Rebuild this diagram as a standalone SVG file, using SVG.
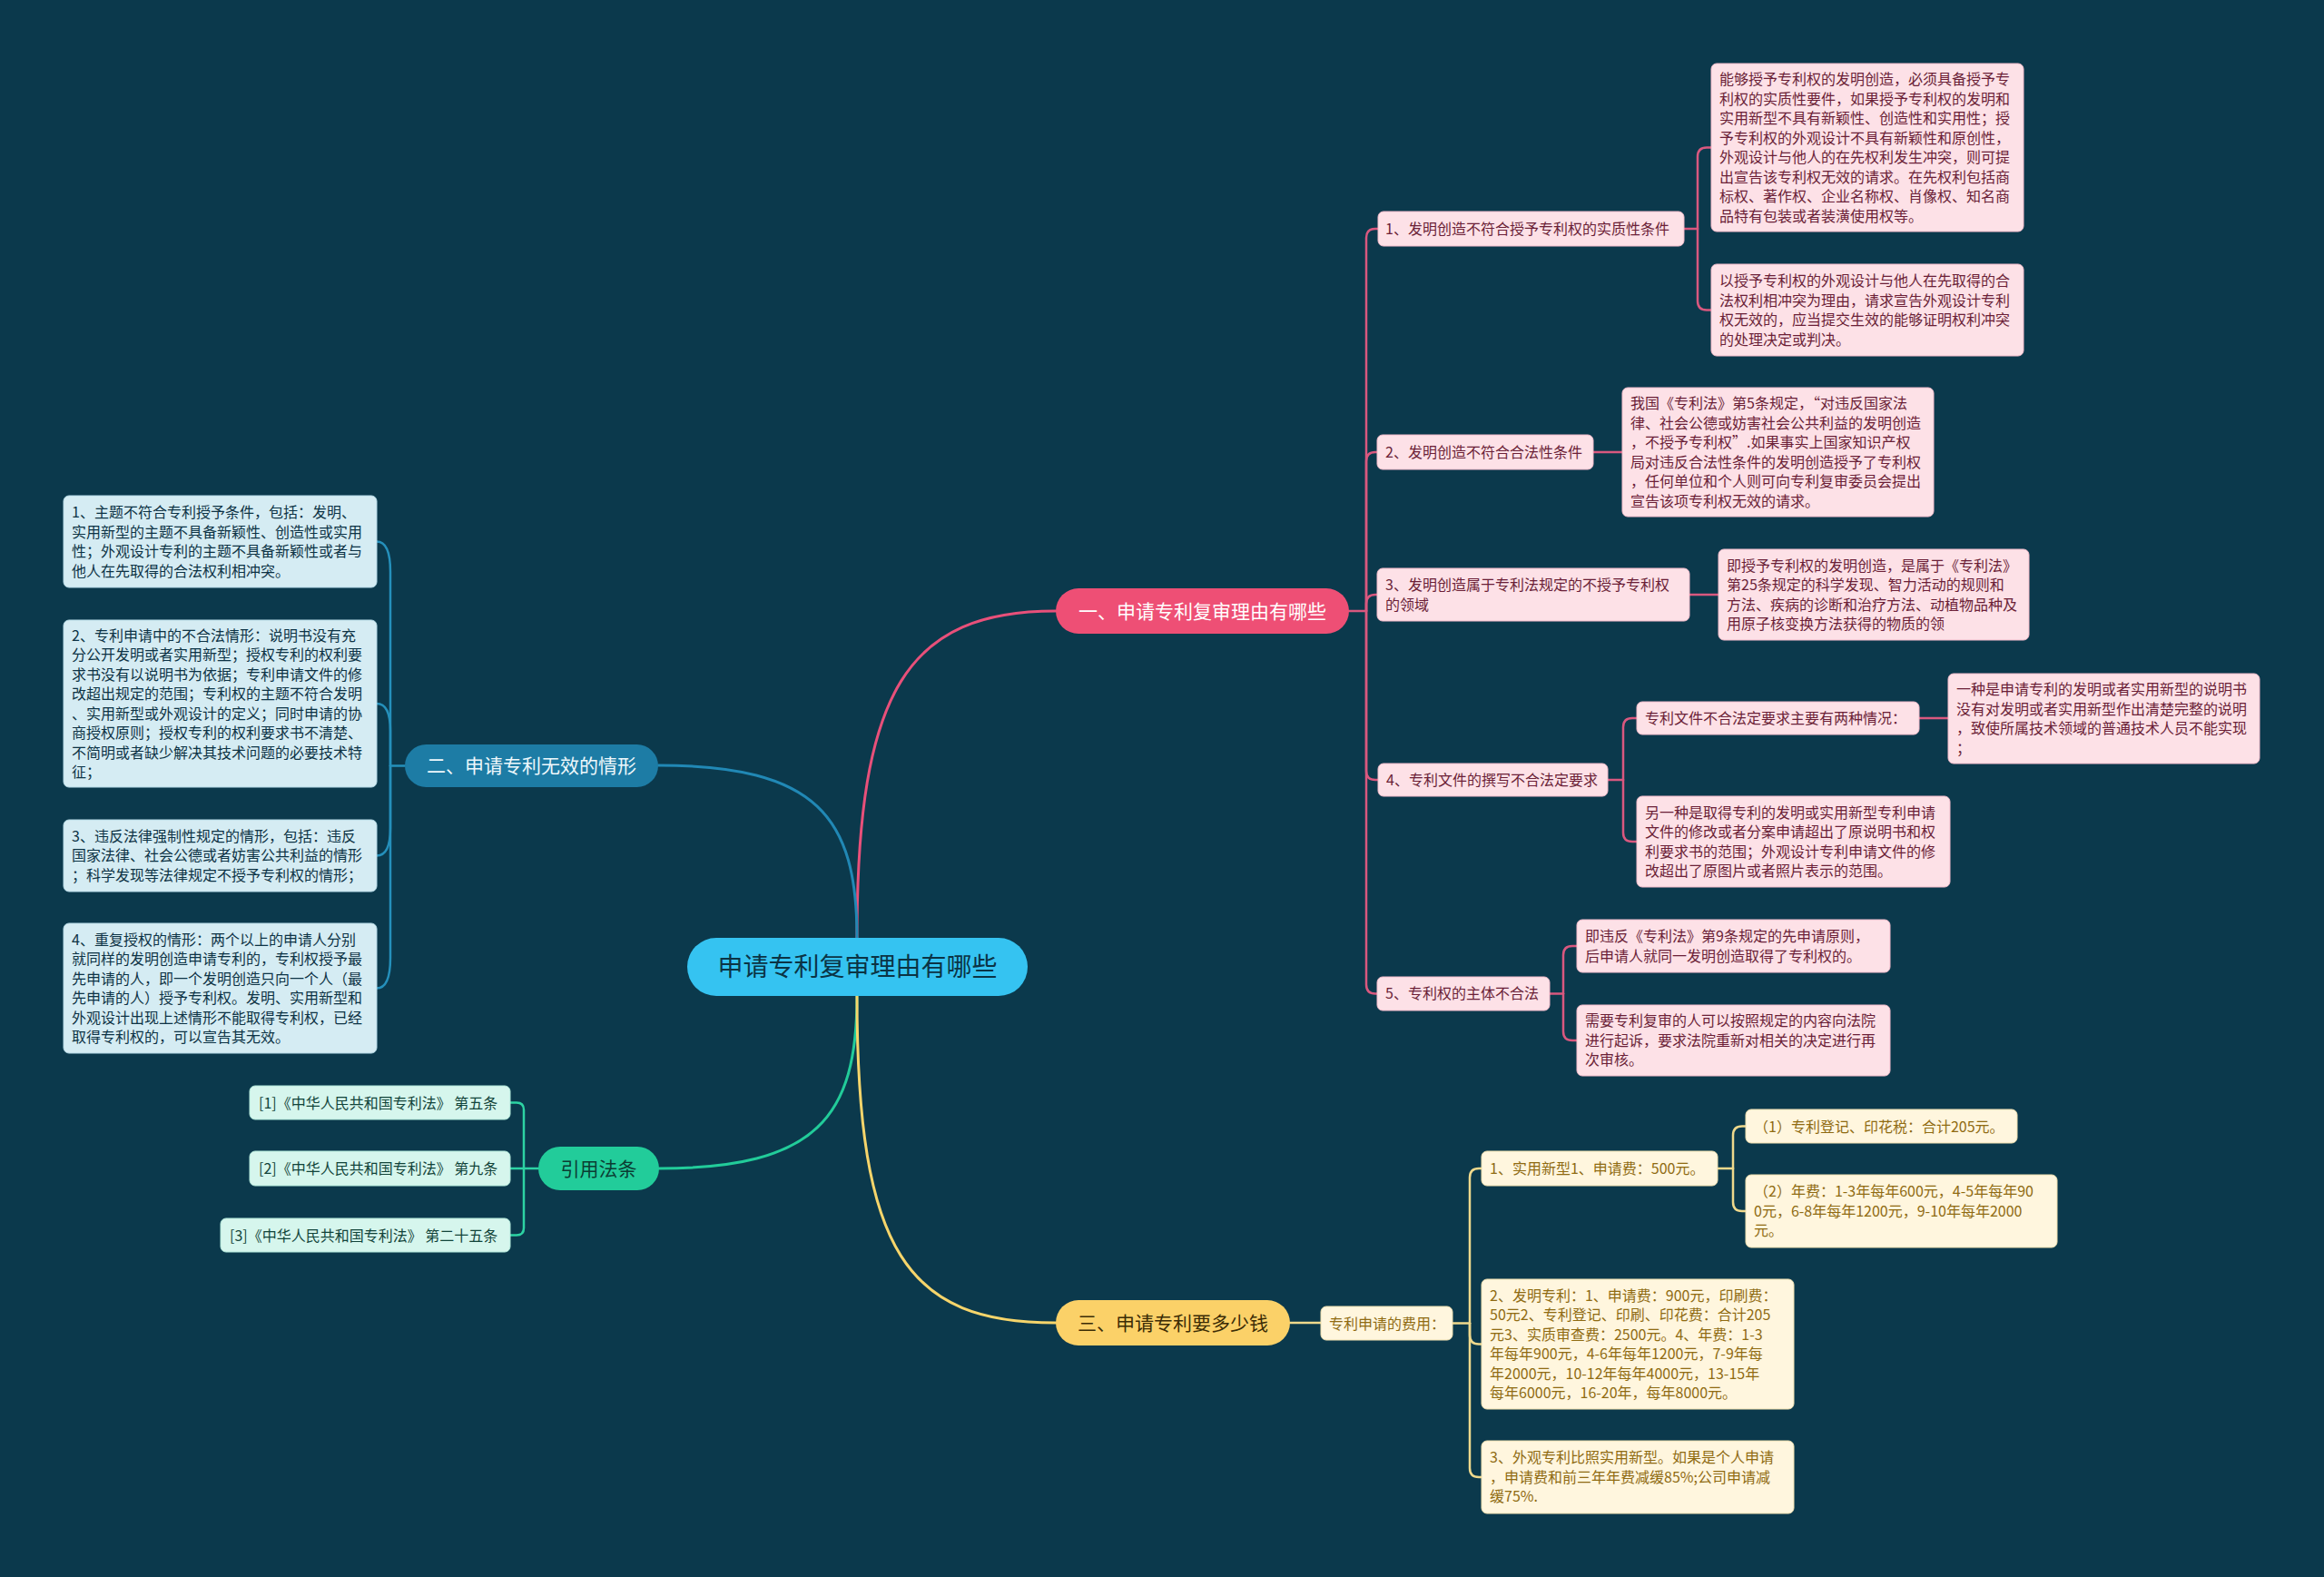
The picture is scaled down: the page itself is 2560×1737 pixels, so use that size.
<svg xmlns="http://www.w3.org/2000/svg" width="2560" height="1737" viewBox="0 0 2560 1737">
<style>
text{font-family:"Noto Sans CJK SC","Noto Sans",sans-serif;}
.t{font-size:16px;}
.pk rect{fill:#fde1e7;stroke:#f3bccb;stroke-width:1;}
.pk text{fill:#6b1f37;}
.bl rect{fill:#d5ecf3;stroke:#b7dbe7;stroke-width:1;}
.bl text{fill:#0d3345;}
.yl rect{fill:#fff6de;stroke:#f0e0b0;stroke-width:1;}
.yl text{fill:#8f6b12;}
.gr rect{fill:#d6f6ed;stroke:#b3e9da;stroke-width:1;}
.gr text{fill:#12443a;}
.br text{font-size:21px;text-anchor:middle;}
.c{fill:none;stroke-linecap:round;stroke-linejoin:round;}
.cp{stroke:#d9587f;stroke-width:2.5;}
.cb{stroke:#2590bb;stroke-width:2.5;}
.cy{stroke:#efd98c;stroke-width:2.5;}
.cg{stroke:#2dd3a3;stroke-width:2.5;}
</style>
<rect x="0" y="0" width="2560" height="1737" fill="#0b394c"/>

<g id="connectors" class="c">
  <path d="M944 1033C944 760 1000 673 1163 673" stroke="#e8507a" stroke-width="3"/>
  <path d="M944 1033C944 900 900 843 725 843" stroke="#2188b5" stroke-width="3"/>
  <path d="M944 1097C944 1230 900 1287 726 1287" stroke="#22cc9a" stroke-width="3"/>
  <path d="M944 1097C944 1380 1000 1457 1163 1457" stroke="#f6d56b" stroke-width="3"/>
  <g class="cp">
    <path d="M1486 673H1505"/>
    <path d="M1505 673V262Q1505 252 1515 252H1518"/>
    <path d="M1505 673V508Q1505 498 1515 498H1518"/>
    <path d="M1505 673V665Q1505 655 1515 655H1518"/>
    <path d="M1505 673V849Q1505 859 1515 859H1518"/>
    <path d="M1505 673V1084.5Q1505 1094.5 1515 1094.5H1518"/>
    <path d="M1855 252H1870"/>
    <path d="M1870 252V172.5Q1870 162.5 1880 162.5H1885"/>
    <path d="M1870 252V331.5Q1870 341.5 1880 341.5H1885"/>
    <path d="M1755 498H1787"/>
    <path d="M1861 655H1893"/>
    <path d="M1771 859H1788"/>
    <path d="M1788 859V801Q1788 791 1798 791H1803"/>
    <path d="M1788 859V917Q1788 927 1798 927H1803"/>
    <path d="M2114 791H2146"/>
    <path d="M1707 1094.5H1722"/>
    <path d="M1722 1094.5V1052Q1722 1042 1732 1042H1737"/>
    <path d="M1722 1094.5V1136Q1722 1146 1732 1146H1737"/>
  </g>
  <g class="cb">
    <path d="M446 843.5H430"/>
    <path d="M430 843.5V630Q430 596.5 415 596.5"/>
    <path d="M430 843.5V805Q430 775 415 775"/>
    <path d="M430 843.5V912Q430 942.5 415 942.5"/>
    <path d="M430 843.5V1055Q430 1088.5 415 1088.5"/>
  </g>
  <g class="cg">
    <path d="M593 1287H577"/>
    <path d="M577 1287V1222.5Q577 1214.5 569 1214.5H562"/>
    <path d="M577 1287H562"/>
    <path d="M577 1287V1352.5Q577 1360.5 569 1360.5H562"/>
  </g>
  <g class="cy">
    <path d="M1421 1457H1455"/>
    <path d="M1600 1457.5H1619"/>
    <path d="M1619 1457.5V1297Q1619 1287 1629 1287H1632"/>
    <path d="M1619 1457.5V1470.5Q1619 1480.5 1629 1480.5H1632"/>
    <path d="M1619 1457.5V1617Q1619 1627 1629 1627H1632"/>
    <path d="M1892 1287H1909"/>
    <path d="M1909 1287V1250.5Q1909 1240.5 1919 1240.5H1923"/>
    <path d="M1909 1287V1324Q1909 1334 1919 1334H1923"/>
  </g>
</g>

<g id="center">
  <rect x="757" y="1033" width="375" height="64" rx="32" fill="#35c3f1"/>
  <text x="944.5" y="1075" font-size="28" text-anchor="middle" fill="#0b3344">申请专利复审理由有哪些</text>
</g>

<g id="b1" class="br">
  <rect x="1163" y="648" width="323" height="50" rx="25" fill="#ee4f75"/>
  <text x="1324.5" y="680.5" fill="#ffffff">一、申请专利复审理由有哪些</text>
</g>
<g id="b2" class="br">
  <rect x="446" y="820" width="279" height="47" rx="23.5" fill="#1d7ca5"/>
  <text x="585.5" y="851" fill="#eef8fc">二、申请专利无效的情形</text>
</g>
<g id="b3" class="br">
  <rect x="1163" y="1432" width="258" height="50" rx="25" fill="#fbd168"/>
  <text x="1292" y="1464.5" fill="#3b2c05">三、申请专利要多少钱</text>
</g>
<g id="b4" class="br">
  <rect x="593" y="1263" width="133" height="48" rx="24" fill="#22cc9a"/>
  <text x="659.5" y="1294.5" fill="#0b3d33">引用法条</text>
</g>

<g id="n1" class="pk t"><rect x="1518" y="233" width="337" height="38" rx="6"/><text x="1526" y="258">1、发明创造不符合授予专利权的实质性条件</text></g>
<g id="n1a" class="pk t"><rect x="1885" y="70" width="344" height="185" rx="6"/>
<text x="1894" y="93">能够授予专利权的发明创造，必须具备授予专<tspan x="1894" dy="21.5">利权的实质性要件，如果授予专利权的发明和</tspan><tspan x="1894" dy="21.5">实用新型不具有新颖性、创造性和实用性；授</tspan><tspan x="1894" dy="21.5">予专利权的外观设计不具有新颖性和原创性，</tspan><tspan x="1894" dy="21.5">外观设计与他人的在先权利发生冲突，则可提</tspan><tspan x="1894" dy="21.5">出宣告该专利权无效的请求。在先权利包括商</tspan><tspan x="1894" dy="21.5">标权、著作权、企业名称权、肖像权、知名商</tspan><tspan x="1894" dy="21.5">品特有包装或者装潢使用权等。</tspan></text></g>
<g id="n1b" class="pk t"><rect x="1885" y="291" width="344" height="101" rx="6"/>
<text x="1894" y="315">以授予专利权的外观设计与他人在先取得的合<tspan x="1894" dy="21.5">法权利相冲突为理由，请求宣告外观设计专利</tspan><tspan x="1894" dy="21.5">权无效的，应当提交生效的能够证明权利冲突</tspan><tspan x="1894" dy="21.5">的处理决定或判决。</tspan></text></g>

<g id="n2" class="pk t"><rect x="1517" y="479" width="238" height="38" rx="6"/><text x="1526" y="504">2、发明创造不符合合法性条件</text></g>
<g id="n2a" class="pk t"><rect x="1787" y="427" width="343" height="142" rx="6"/>
<text x="1796" y="450">我国《专利法》第5条规定，“对违反国家法<tspan x="1796" dy="21.5">律、社会公德或妨害社会公共利益的发明创造</tspan><tspan x="1796" dy="21.5">，不授予专利权”.如果事实上国家知识产权</tspan><tspan x="1796" dy="21.5">局对违反合法性条件的发明创造授予了专利权</tspan><tspan x="1796" dy="21.5">，任何单位和个人则可向专利复审委员会提出</tspan><tspan x="1796" dy="21.5">宣告该项专利权无效的请求。</tspan></text></g>

<g id="n3" class="pk t"><rect x="1517" y="626" width="344" height="58" rx="6"/>
<text x="1526" y="650">3、发明创造属于专利法规定的不授予专利权<tspan x="1526" dy="21.5">的领域</tspan></text></g>
<g id="n3a" class="pk t"><rect x="1893" y="605" width="342" height="100" rx="6"/>
<text x="1902" y="628.5">即授予专利权的发明创造，是属于《专利法》<tspan x="1902" dy="21.5">第25条规定的科学发现、智力活动的规则和</tspan><tspan x="1902" dy="21.5">方法、疾病的诊断和治疗方法、动植物品种及</tspan><tspan x="1902" dy="21.5">用原子核变换方法获得的物质的领</tspan></text></g>

<g id="n4" class="pk t"><rect x="1518" y="841" width="253" height="36" rx="6"/><text x="1527" y="865">4、专利文件的撰写不合法定要求</text></g>
<g id="n4a" class="pk t"><rect x="1803" y="773" width="311" height="36" rx="6"/><text x="1812" y="797">专利文件不合法定要求主要有两种情况：</text></g>
<g id="n4a1" class="pk t"><rect x="2146" y="742" width="343" height="99" rx="6"/>
<text x="2155" y="765">一种是申请专利的发明或者实用新型的说明书<tspan x="2155" dy="21.5">没有对发明或者实用新型作出清楚完整的说明</tspan><tspan x="2155" dy="21.5">，致使所属技术领域的普通技术人员不能实现</tspan><tspan x="2155" dy="21.5">；</tspan></text></g>
<g id="n4b" class="pk t"><rect x="1803" y="877" width="345" height="100" rx="6"/>
<text x="1812" y="900.5">另一种是取得专利的发明或实用新型专利申请<tspan x="1812" dy="21.5">文件的修改或者分案申请超出了原说明书和权</tspan><tspan x="1812" dy="21.5">利要求书的范围；外观设计专利申请文件的修</tspan><tspan x="1812" dy="21.5">改超出了原图片或者照片表示的范围。</tspan></text></g>

<g id="n5" class="pk t"><rect x="1517" y="1076" width="190" height="37" rx="6"/><text x="1526" y="1100">5、专利权的主体不合法</text></g>
<g id="n5a" class="pk t"><rect x="1737" y="1013" width="345" height="58" rx="6"/>
<text x="1746" y="1037">即违反《专利法》第9条规定的先申请原则，<tspan x="1746" dy="21.5">后申请人就同一发明创造取得了专利权的。</tspan></text></g>
<g id="n5b" class="pk t"><rect x="1737" y="1107" width="345" height="78" rx="6"/>
<text x="1746" y="1130.3">需要专利复审的人可以按照规定的内容向法院<tspan x="1746" dy="21.5">进行起诉，要求法院重新对相关的决定进行再</tspan><tspan x="1746" dy="21.5">次审核。</tspan></text></g>

<g id="m1" class="bl t"><rect x="70" y="546" width="345" height="101" rx="6"/>
<text x="79" y="570">1、主题不符合专利授予条件，包括：发明、<tspan x="79" dy="21.5">实用新型的主题不具备新颖性、创造性或实用</tspan><tspan x="79" dy="21.5">性；外观设计专利的主题不具备新颖性或者与</tspan><tspan x="79" dy="21.5">他人在先取得的合法权利相冲突。</tspan></text></g>
<g id="m2" class="bl t"><rect x="70" y="683" width="345" height="184" rx="6"/>
<text x="79" y="705.5">2、专利申请中的不合法情形：说明书没有充<tspan x="79" dy="21.5">分公开发明或者实用新型；授权专利的权利要</tspan><tspan x="79" dy="21.5">求书没有以说明书为依据；专利申请文件的修</tspan><tspan x="79" dy="21.5">改超出规定的范围；专利权的主题不符合发明</tspan><tspan x="79" dy="21.5">、实用新型或外观设计的定义；同时申请的协</tspan><tspan x="79" dy="21.5">商授权原则；授权专利的权利要求书不清楚、</tspan><tspan x="79" dy="21.5">不简明或者缺少解决其技术问题的必要技术特</tspan><tspan x="79" dy="21.5">征；</tspan></text></g>
<g id="m3" class="bl t"><rect x="70" y="903" width="345" height="79" rx="6"/>
<text x="79" y="926.8">3、违反法律强制性规定的情形，包括：违反<tspan x="79" dy="21.5">国家法律、社会公德或者妨害公共利益的情形</tspan><tspan x="79" dy="21.5">；科学发现等法律规定不授予专利权的情形；</tspan></text></g>
<g id="m4" class="bl t"><rect x="70" y="1017" width="345" height="143" rx="6"/>
<text x="79" y="1040.5">4、重复授权的情形：两个以上的申请人分别<tspan x="79" dy="21.5">就同样的发明创造申请专利的，专利权授予最</tspan><tspan x="79" dy="21.5">先申请的人，即一个发明创造只向一个人（最</tspan><tspan x="79" dy="21.5">先申请的人）授予专利权。发明、实用新型和</tspan><tspan x="79" dy="21.5">外观设计出现上述情形不能取得专利权，已经</tspan><tspan x="79" dy="21.5">取得专利权的，可以宣告其无效。</tspan></text></g>

<g id="y0" class="yl t"><rect x="1455" y="1439" width="145" height="37" rx="6"/><text x="1464" y="1463.5">专利申请的费用：</text></g>
<g id="y1" class="yl t"><rect x="1632" y="1268" width="260" height="38" rx="6"/><text x="1641" y="1293">1、实用新型1、申请费：500元。</text></g>
<g id="y1a" class="yl t"><rect x="1923" y="1222" width="299" height="37" rx="6"/><text x="1932" y="1246.5">（1）专利登记、印花税：合计205元。</text></g>
<g id="y1b" class="yl t"><rect x="1923" y="1294" width="343" height="80" rx="6"/>
<text x="1932" y="1318.3">（2）年费：1-3年每年600元，4-5年每年90<tspan x="1932" dy="21.5">0元，6-8年每年1200元，9-10年每年2000</tspan><tspan x="1932" dy="21.5">元。</tspan></text></g>
<g id="y2" class="yl t"><rect x="1632" y="1409" width="344" height="143" rx="6"/>
<text x="1641" y="1432.5">2、发明专利：1、申请费：900元，印刷费：<tspan x="1641" dy="21.5">50元2、专利登记、印刷、印花费：合计205</tspan><tspan x="1641" dy="21.5">元3、实质审查费：2500元。4、年费：1-3</tspan><tspan x="1641" dy="21.5">年每年900元，4-6年每年1200元，7-9年每</tspan><tspan x="1641" dy="21.5">年2000元，10-12年每年4000元，13-15年</tspan><tspan x="1641" dy="21.5">每年6000元，16-20年，每年8000元。</tspan></text></g>
<g id="y3" class="yl t"><rect x="1632" y="1587" width="344" height="80" rx="6"/>
<text x="1641" y="1611.3">3、外观专利比照实用新型。如果是个人申请<tspan x="1641" dy="21.5">，申请费和前三年年费减缓85%;公司申请减</tspan><tspan x="1641" dy="21.5">缓75%.</tspan></text></g>

<g id="g1" class="gr t"><rect x="275" y="1196" width="287" height="37" rx="6"/><text x="285" y="1220.5">[1]《中华人民共和国专利法》 第五条</text></g>
<g id="g2" class="gr t"><rect x="275" y="1268" width="287" height="38" rx="6"/><text x="285" y="1293">[2]《中华人民共和国专利法》 第九条</text></g>
<g id="g3" class="gr t"><rect x="243" y="1342" width="319" height="37" rx="6"/><text x="253" y="1366.5">[3]《中华人民共和国专利法》 第二十五条</text></g>
</svg>
